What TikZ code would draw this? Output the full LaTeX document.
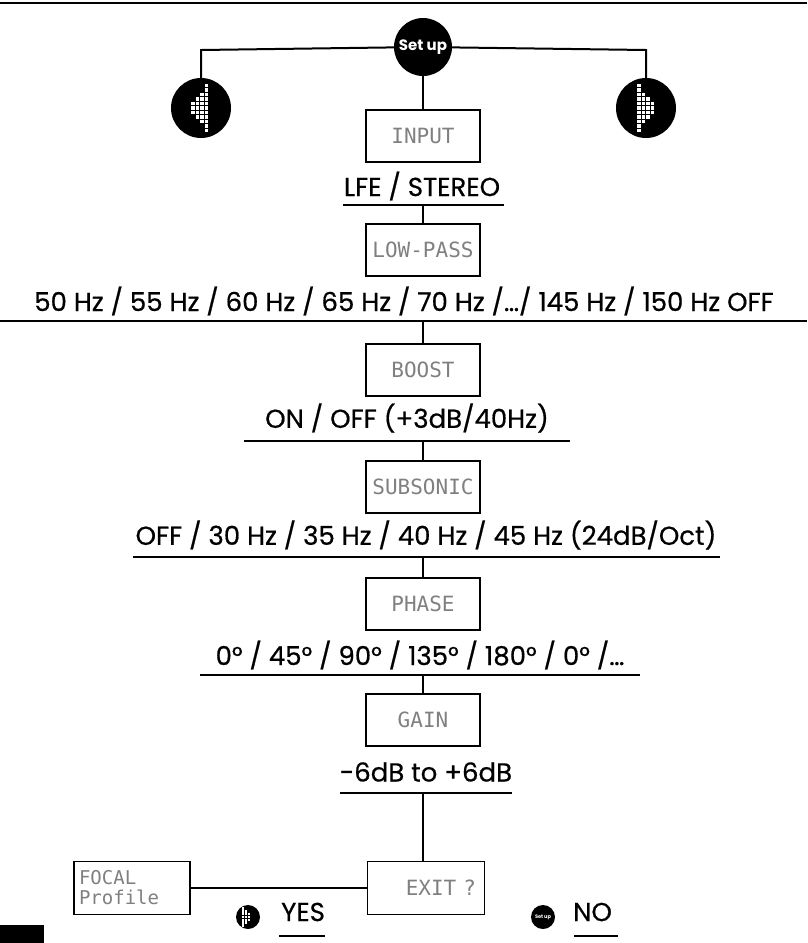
\documentclass[tikz,border=0pt]{standalone}
\usepackage{fontspec}
\setmainfont{Poppins}
\newfontfamily\lcd{DejaVu Sans Mono}
\newfontfamily\med{Poppins}[FakeBold=0.6]
\begin{document}
\begin{tikzpicture}[x=1pt,y=-1pt,
 box/.style={draw,line width=1.6pt,minimum width=114pt,minimum height=52pt,font=\lcd\fontsize{21}{21}\selectfont,text=black!50},
 val/.style={font=\med\fontsize{26}{26}\selectfont},
 ln/.style={line width=2pt},
 dot/.style={circle,fill=black,inner sep=0pt}]
\useasboundingbox (0,0) rectangle (807,943);
\draw[line width=2.5pt] (0,3) -- (807,3);
\node[dot,minimum size=58pt,text=white,font=\bfseries\fontsize{15}{15}\selectfont] (su) at (423,47) {Set up};
\node[dot,minimum size=60pt] (lt) at (201,108) {};
\node[dot,minimum size=60pt] (rt) at (646,108) {};
\coordinate (lc) at (201,50); \coordinate (rc) at (646,50);
\draw[ln] (su) -- (lc) -- (lt); \draw[ln] (su) -- (rc) -- (rt);
\foreach \c/\h in {0/1,1/2,2/3,3/5}{
 \foreach \r in {-\h,...,\h}{\fill[white] (191+\c*4.5,108+\r*4.5-2) rectangle ++(3.8,3.8);}}
\foreach \c/\h in {0/5,1/3,2/2,3/1}{
 \foreach \r in {-\h,...,\h}{\fill[white] (637+\c*4.5,108+\r*4.5-2) rectangle ++(3.8,3.8);}}
\node[box] (b1) at (423,136) {INPUT};
\node[val] (t1) at (422,186) {LFE / STEREO};
\coordinate (u1a) at (343,205); \coordinate (u1b) at (504,205); \coordinate (u1) at (423,205);
\node[box] (b2) at (423,250) {LOW-PASS};
\node[val] (t2) at (404,301) {50 Hz / 55 Hz / 60 Hz / 65 Hz / 70 Hz /…/ 145 Hz / 150 Hz OFF};
\coordinate (u2a) at (0,321); \coordinate (u2b) at (807,321); \coordinate (u2) at (423,321);
\node[box] (b3) at (423,370) {BOOST};
\node[val] (t3) at (407,418) {ON / OFF (+3dB/40Hz)};
\coordinate (u3a) at (244,441); \coordinate (u3b) at (570,441); \coordinate (u3) at (423,441);
\node[box] (b4) at (423,487) {SUBSONIC};
\node[val] (t4) at (426,535) {OFF / 30 Hz / 35 Hz / 40 Hz / 45 Hz (24dB/Oct)};
\coordinate (u4a) at (133,557); \coordinate (u4b) at (720,557); \coordinate (u4) at (423,557);
\node[box] (b5) at (423,604) {PHASE};
\node[val] (t5) at (420,655) {0° / 45° / 90° / 135° / 180° / 0° /…};
\coordinate (u5a) at (200,675); \coordinate (u5b) at (640,675); \coordinate (u5) at (423,675);
\node[box] (b6) at (423,720) {GAIN};
\node[val] (t6) at (426,772) {-6dB to +6dB};
\coordinate (u6a) at (340,793); \coordinate (u6b) at (512,793); \coordinate (u6) at (423,793);
\node[box,minimum width=117pt,minimum height=53pt,text width=100pt,align=right] (b7) at (426,888) {EXIT ?};
\node[box,minimum width=116pt,minimum height=53pt,text width=106pt,inner sep=2pt,align=left,font=\lcd\fontsize{19}{20}\selectfont] (fp) at (132,888) {FOCAL\\Profile};
\foreach \i in {1,...,6}{\draw[ln] (u\i a) -- (u\i b);}
\draw[ln] (su) -- (b1);
\draw[ln] (u1) -- (b2); \draw[ln] (u2) -- (b3); \draw[ln] (u3) -- (b4);
\draw[ln] (u4) -- (b5); \draw[ln] (u5) -- (b6); \draw[ln] (u6) -- (u6 |- b7.north);
\draw[ln] (fp) -- (b7);
\node[dot,minimum size=24pt] (yi) at (248,917) {};
\foreach \c/\h in {0/3,1/2,2/1}{\foreach \r in {-\h,...,\h}{\fill[white] (242+\c*2.8,917+\r*2.8-1.2) rectangle ++(2.4,2.4);}}
\node[val,anchor=west,inner sep=0pt] (yes) at (281,912) {YES};
\draw[ln] (279,936) -- (325,936);
\node[dot,minimum size=24pt,text=white,font=\bfseries\fontsize{5}{5}\selectfont] (ni) at (543,917) {Set up};
\node[val,anchor=west,inner sep=0pt] (no) at (573,912) {NO};
\draw[ln] (574,936) -- (618,936);
\fill (0,925) rectangle (44,943);
\end{tikzpicture}
\end{document}
